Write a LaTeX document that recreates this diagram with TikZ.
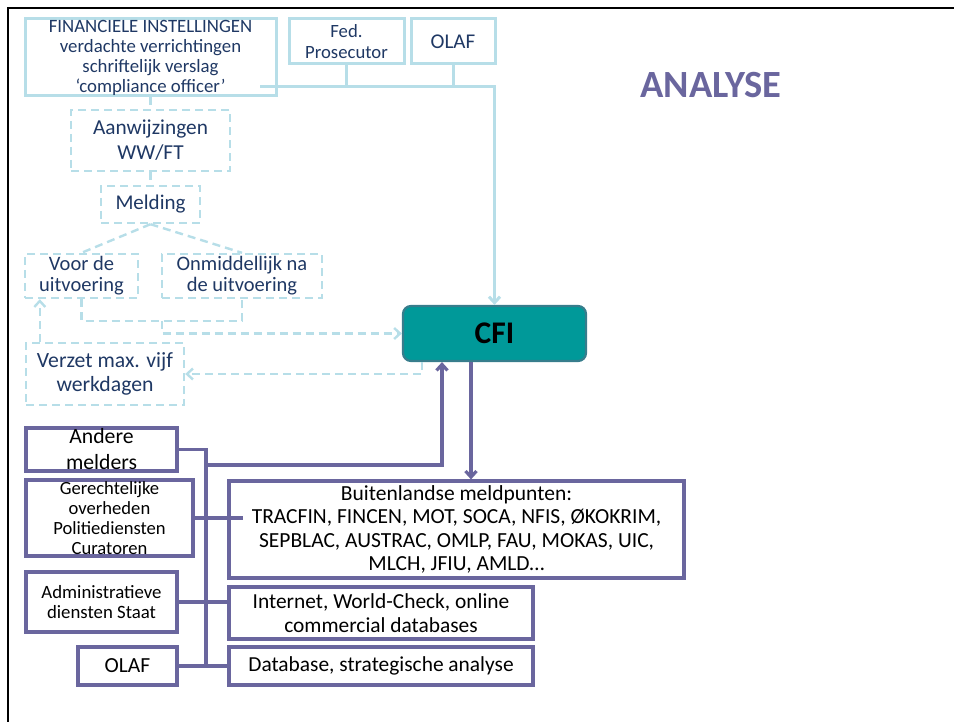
\documentclass[tikz,border=0pt]{standalone}
\usepackage{fontspec}
\setmainfont{Carlito}
\usepackage{tikz}
\usetikzlibrary{arrows.meta, positioning}
\definecolor{lblue}{RGB}{183,222,232}
\definecolor{navy}{RGB}{31,56,100}
\definecolor{pviolet}{RGB}{106,102,158}
\definecolor{teal}{RGB}{0,153,153}
\definecolor{tealline}{RGB}{55,125,140}
\tikzset{
		lbbox/.style={draw=lblue, line width=3pt, text=navy, align=center, inner sep=0pt},
		dbox/.style={lbbox, line width=2.4pt, dash pattern=on 8pt off 5pt},
		pbox/.style={draw=pviolet, line width=3.2pt, text=black, align=center, inner sep=0pt},
		cfibox/.style={draw=tealline, fill=teal, line width=2.2pt, rounded corners=8pt, inner sep=0pt},
		lbline/.style={draw=lblue, line width=3pt},
		dline/.style={draw=lblue, line width=2.4pt, dash pattern=on 8pt off 5pt},
		pline/.style={draw=pviolet, line width=3.2pt}
	}

\begin{document}
\begin{tikzpicture}[x=1pt,y=-1pt,>={Straight Barb[length=6pt,width=11pt]}]
				\useasboundingbox (0,0) rectangle (954,722);
				\draw[line width=2.8pt] (8,722) -- (8,8) -- (954,8);

				% meldingen bovenaan
				\node[lbbox,minimum width=251,minimum height=77,font=\fontsize{18.8}{20}\selectfont] (fin) at (150.5,57.5)
					{FINANCIELE INSTELLINGEN\\verdachte verrichtingen\\schriftelijk verslag\\‘compliance officer’};
				\node[lbbox,minimum width=115,minimum height=45,font=\fontsize{18.7}{21}\selectfont] (fed) at (346.5,41.5) {Fed.\\Prosecutor};
				\node[lbbox,minimum width=84,minimum height=45,font=\fontsize{21}{24}\selectfont] (olafa) at (453,41.5) {OLAF};
				\node[font=\bfseries\fontsize{38.5}{44}\selectfont, text=pviolet] (title) at (711,85) {ANALYSE};

				\node[dbox,minimum width=159,minimum height=61,font=\fontsize{21.3}{25}\selectfont] (aanw) at (150.5,140.5) {Aanwijzingen\\WW/FT};
				\node[dbox,minimum width=99,minimum height=37,font=\fontsize{21}{24}\selectfont] (meld) at (150.5,204.5) {Melding};
				\node[dbox,minimum width=113,minimum height=44,font=\fontsize{20.5}{21}\selectfont] (voor) at (81.5,276) {Voor de\\uitvoering};
				\node[dbox,minimum width=160,minimum height=44,font=\fontsize{20.5}{21}\selectfont] (onmid) at (242,276) {Onmiddellijk na\\de uitvoering};
				\node[dbox,minimum width=158,minimum height=62,font=\fontsize{21.7}{24}\selectfont] (verzet) at (105,374) {Verzet max. vijf\\werkdagen};

				\node[cfibox,minimum width=183,minimum height=55,font=\bfseries\fontsize{31.5}{36}\selectfont] (cfi) at (494.5,333.5) {CFI};

				% andere bronnen
				\node[pbox,minimum width=151,minimum height=43,font=\fontsize{21.7}{26}\selectfont] (andere) at (101.5,449.5) {Andere\\melders};
				\node[pbox,minimum width=167,minimum height=76,font=\fontsize{18.6}{20}\selectfont] (ger) at (109.5,518) {Gerechtelijke\\overheden\\Politiediensten\\Curatoren};
				\node[pbox,minimum width=151,minimum height=60,font=\fontsize{18.8}{20}\selectfont] (adm) at (101.5,602) {Administratieve\\diensten Staat};
				\node[pbox,minimum width=99,minimum height=38,font=\fontsize{21.5}{24}\selectfont] (olafb) at (127.5,666) {OLAF};

				\node[pbox,minimum width=455,minimum height=97,font=\fontsize{21.5}{23.5}\selectfont] (buiten) at (456.5,529.5)
					{Buitenlandse meldpunten:\\TRACFIN, FINCEN, MOT, SOCA, NFIS, ØKOKRIM,\\SEPBLAC, AUSTRAC, OMLP, FAU, MOKAS, UIC,\\MLCH, JFIU, AMLD…};
				\node[pbox,minimum width=304,minimum height=52,font=\fontsize{21.4}{23.5}\selectfont] (inet) at (381,613) {Internet, World-Check, online\\commercial databases};
				\node[pbox,minimum width=304,minimum height=38,font=\fontsize{21.4}{24}\selectfont] (dbase) at (381,666) {Database, strategische analyse};

				% verbindingen boven
				\coordinate (finout) at (260,87);
				\draw[lbline,->] (finout) -| (cfi.north);
				\draw[lbline] (fed.south) -- (fed.south |- finout);
				\draw[lbline] (olafa.south) -- (olafa.south |- finout);

				\draw[dline] (fin.south) -- (aanw.north);
				\draw[dline] (aanw.south) -- (meld.north);
				\draw[dline] (meld.south) -- (voor.north);
				\draw[dline] (meld.south) -- (onmid.north);
				\coordinate (brk) at (162,321);
				\draw[dline] (voor.south) |- (brk) -| (onmid.south);
				\draw[dline,->] (brk) |- (cfi.west);
				\draw[dline,->] ([xshift=15pt]verzet.north west) -- ([xshift=15pt]verzet.north west |- voor.south);
				\draw[dline,->] ([xshift=-72.5pt]cfi.south) |- (verzet.east);

				% verbindingen onder
				\coordinate (trk) at (206,449.5);
				\coordinate (jn) at (206,465);
				\draw[pline] (andere.east) -- (trk) |- (olafb.east);
				\draw[pline,->] (jn) -| ([xshift=-52.5pt]cfi.south);
				\draw[pline,->] ([xshift=-23.5pt]cfi.south) -- ([xshift=-23.5pt]cfi.south |- buiten.north);
				\draw[pline] (ger.east) -- ([xshift=16pt]buiten.west |- ger.east);
				\draw[pline] (adm.east) -- (adm.east -| inet.west);
				\draw[pline] (olafb.east) -- (dbase.west);
			\end{tikzpicture}
\end{document}
